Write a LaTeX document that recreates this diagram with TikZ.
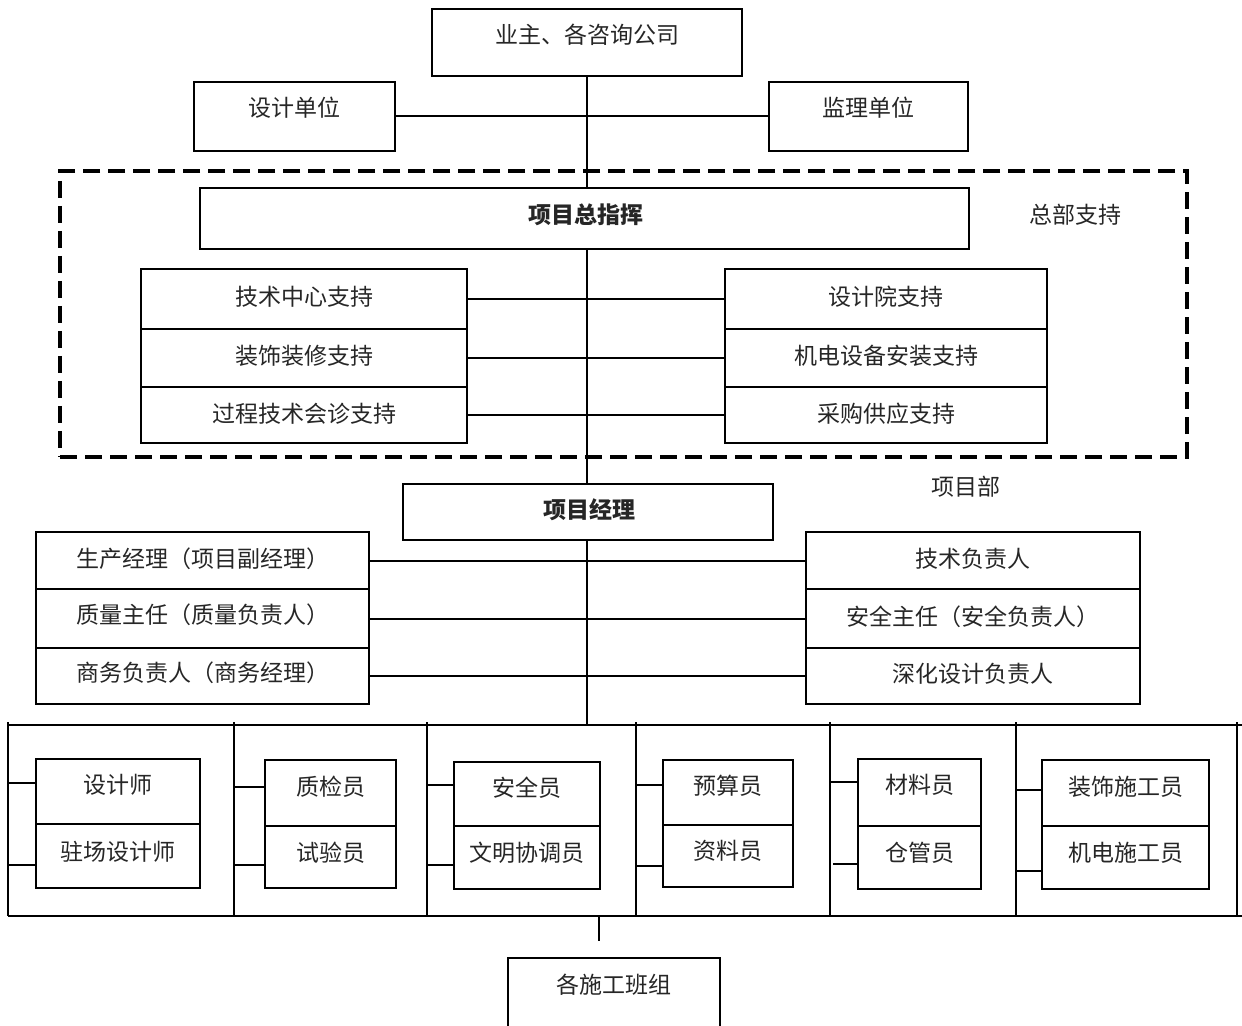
\documentclass[tikz,border=0pt]{standalone}
\usepackage{fontspec}
\setmainfont{Noto Sans CJK SC}
\usetikzlibrary{fit}
\newcommand\mybox[7]{%
  \node[boxst, fit={(#2,#3)(#4,#5)}] (#1) {};
  \node[txt] (#1t) at ({(#2+#4)/2},#7) {#6};
}
\begin{document}
\begin{tikzpicture}[x=0.5pt,y=-0.5pt,
  boxst/.style={draw=black, line width=1.1pt, inner sep=0pt},
  txt/.style={inner sep=0pt, text=black!85, font=\fontsize{11.5}{13}\selectfont},
  btxt/.style={txt, font=\fontsize{11.5}{13}\selectfont\bfseries},
  conn/.style={draw=black, line width=1pt},
  dashbox/.style={draw=black, line width=1.6pt, dash pattern=on 8.5pt off 4pt}]
\useasboundingbox (0,0) rectangle (1242,1026);

% top
\mybox{yz}{432}{9}{742}{76}{业主、各咨询公司}{35}
\mybox{sj}{194}{82}{395}{151}{设计单位}{108}
\mybox{jl}{769}{82}{968}{151}{监理单位}{108}

% dashed HQ frame
\node[dashbox, fit={(60,171)(1187,457)}, inner sep=0pt] (hq) {};
\node[boxst, fit={(200,188)(969,249)}] (zh) {};
\node[btxt] (zht) at (586,215) {项目总指挥};
\node[txt] (zbt) at (1075,215) {总部支持};

\mybox{l1}{141}{269}{467}{329}{技术中心支持}{297}
\mybox{l2}{141}{329}{467}{387}{装饰装修支持}{356}
\mybox{l3}{141}{387}{467}{443}{过程技术会诊支持}{414}
\mybox{r1}{725}{269}{1047}{329}{设计院支持}{297}
\mybox{r2}{725}{329}{1047}{387}{机电设备安装支持}{356}
\mybox{r3}{725}{387}{1047}{443}{采购供应支持}{414}

% project department
\node[txt] (xmb) at (966,487) {项目部};
\node[boxst, fit={(403,484)(773,540)}] (pm) {};
\node[btxt] (pmt) at (589,510) {项目经理};
\mybox{a1}{36}{532}{369}{589}{生产经理（项目副经理）}{559}
\mybox{a2}{36}{589}{369}{648}{质量主任（质量负责人）}{615}
\mybox{a3}{36}{648}{369}{704}{商务负责人（商务经理）}{673}
\mybox{b1}{806}{532}{1140}{589}{技术负责人}{559}
\mybox{b2}{806}{589}{1140}{648}{安全主任（安全负责人）}{617}
\mybox{b3}{806}{648}{1140}{704}{深化设计负责人}{674}

% connectors upper part
\draw[conn] (yz.south) -- (yz.south |- zh.north);
\draw[conn] (sj.east) -- (jl.west);
\draw[conn] (l1.east) -- (r1.west);
\draw[conn] (l2.east) -- (r2.west);
\draw[conn] (l3.east) -- (r3.west);
\draw[conn] (yz.south |- zh.south) -- (yz.south |- pm.north);
\draw[conn] (a1.east) -- (b1.west);
\draw[conn] (a2.east) -- (b2.west);
\draw[conn] (a3.east) -- (b3.west);

% bottom frame
\coordinate (ft) at (587,725);
\draw[conn] (pm.south -| ft) -- (ft);
\draw[conn] (8,725) -- (1242,725);
\draw[conn] (8,916) -- (1242,916);
\foreach \vx in {8,234,427,636,830,1016,1237}{
  \draw[conn] (\vx,722) -- (\vx,916);
}

% bottom boxes
\mybox{c1}{36}{759}{200}{824}{设计师}{785}
\mybox{c2}{36}{824}{200}{888}{驻场设计师}{852}
\mybox{d1}{265}{760}{396}{826}{质检员}{787}
\mybox{d2}{265}{826}{396}{888}{试验员}{853}
\mybox{e1}{454}{762}{600}{826}{安全员}{788}
\mybox{e2}{454}{826}{600}{889}{文明协调员}{853}
\mybox{f1}{663}{760}{793}{825}{预算员}{786}
\mybox{f2}{663}{825}{793}{887}{资料员}{851}
\mybox{g1}{858}{759}{981}{826}{材料员}{785}
\mybox{g2}{858}{826}{981}{889}{仓管员}{853}
\mybox{h1}{1042}{760}{1209}{826}{装饰施工员}{787}
\mybox{h2}{1042}{826}{1209}{889}{机电施工员}{853}

% stubs
\coordinate (s1) at (8,783);   \draw[conn] (s1) -- (s1 -| c1.west);
\coordinate (s2) at (8,865);   \draw[conn] (s2) -- (s2 -| c2.west);
\coordinate (s3) at (234,787); \draw[conn] (s3) -- (s3 -| d1.west);
\coordinate (s4) at (234,865); \draw[conn] (s4) -- (s4 -| d2.west);
\coordinate (s5) at (427,785); \draw[conn] (s5) -- (s5 -| e1.west);
\coordinate (s6) at (427,865); \draw[conn] (s6) -- (s6 -| e2.west);
\coordinate (s7) at (636,785); \draw[conn] (s7) -- (s7 -| f1.west);
\coordinate (s8) at (636,866); \draw[conn] (s8) -- (s8 -| f2.west);
\coordinate (s9) at (830,782); \draw[conn] (s9) -- (s9 -| g1.west);
\coordinate (s10) at (833,864); \draw[conn] (s10) -- (s10 -| g2.west);
\coordinate (s11) at (1016,790); \draw[conn] (s11) -- (s11 -| h1.west);
\coordinate (s12) at (1016,871); \draw[conn] (s12) -- (s12 -| h2.west);

% bottom team box
\node[boxst, fit={(508,958)(720,1040)}] (bz) {};
\node[txt] (bzt) at (614,985) {各施工班组};
\coordinate (fb) at (599,916);
\draw[conn, shorten >=8pt] (fb) -- (fb |- bz.north);
\end{tikzpicture}
\end{document}
